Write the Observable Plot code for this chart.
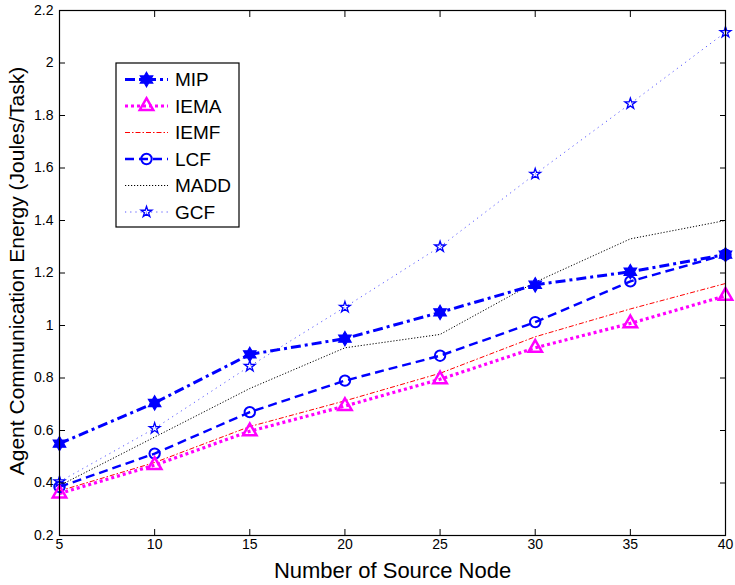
<!DOCTYPE html>
<html>
<head>
<meta charset="utf-8">
<script src="https://cdn.jsdelivr.net/npm/d3@7"></script>
<script src="https://cdn.jsdelivr.net/npm/@observablehq/plot@0.6"></script>
<style>
  body { margin: 0; background: #fff; }
  #wrap { position: relative; width: 735px; height: 585px; }
  #wrap svg { position: absolute; left: 0; top: 0; }
</style>
</head>
<body>
<div id="wrap"></div>
<script>
const nodes = [5, 10, 15, 20, 25, 30, 35, 40];
const MIP  = [0.55, 0.705, 0.89, 0.95, 1.05, 1.155, 1.205, 1.27];
const IEMA = [0.36, 0.468, 0.597, 0.693, 0.795, 0.915, 1.008, 1.113];
const IEMF = [0.37, 0.478, 0.615, 0.713, 0.818, 0.957, 1.063, 1.16];
const LCF  = [0.385, 0.512, 0.67, 0.79, 0.885, 1.013, 1.168, 1.27];
const MADD = [0.39, 0.575, 0.76, 0.915, 0.966, 1.165, 1.33, 1.40];
const GCF  = [0.405, 0.608, 0.845, 1.07, 1.30, 1.577, 1.845, 2.117];
const seriesNames = ["MIP", "IEMA", "IEMF", "LCF", "MADD", "GCF"];
const seriesValues = [MIP, IEMA, IEMF, LCF, MADD, GCF];
const yTicks = [0.2, 0.4, 0.6, 0.8, 1, 1.2, 1.4, 1.6, 1.8, 2, 2.2];
const xTicks = [5, 10, 15, 20, 25, 30, 35, 40];
const xLabel = "Number of Source Node";
const yLabel = "Agent Communication Energy (Joules/Task)";

// six-pointed star (hexagram) symbol
const hexagram = {
  draw(context, size) {
    const R = Math.sqrt(size / Math.PI) * 1.2;
    const r = R / Math.sqrt(3);
    for (let i = 0; i < 12; i++) {
      const a = -Math.PI / 2 + i * Math.PI / 6;
      const rad = i % 2 === 0 ? R : r;
      const x = rad * Math.cos(a), y = rad * Math.sin(a);
      if (i === 0) context.moveTo(x, y); else context.lineTo(x, y);
    }
    context.closePath();
  }
};

const styles = {
  MIP:  {stroke: "#0000ff", strokeWidth: 3, dash: "10,4,3,4", symbol: hexagram, r: 6, fill: "#0000ff", mstroke: "#0000ff", mw: 1.2},
  IEMA: {stroke: "#ff00ff", strokeWidth: 3.2, dash: "3,3", symbol: "triangle", r: 5, fill: "none", mstroke: "#ff00ff", mw: 2.5},
  IEMF: {stroke: "#ff0000", strokeWidth: 1, dash: "5,2,1.5,2", symbol: null},
  LCF:  {stroke: "#0000ff", strokeWidth: 2.4, dash: "9,5", symbol: "circle", r: 5.2, fill: "none", mstroke: "#0000ff", mw: 2},
  MADD: {stroke: "#000000", strokeWidth: 1, dash: "1.2,1.8", symbol: null},
  GCF:  {stroke: "#5555ff", strokeWidth: 1, dash: "1.2,4", symbol: "star", r: 3.4, fill: "none", mstroke: "#0000ff", mw: 1.3}
};

const data = [];
seriesNames.forEach((s, i) => nodes.forEach((n, j) => data.push({series: s, x: n, y: seriesValues[i][j]})));

const marks = [];
[...seriesNames].reverse().forEach(s => {
  const st = styles[s];
  const d = data.filter(v => v.series === s);
  marks.push(Plot.line(d, {x: "x", y: "y", stroke: st.stroke, strokeWidth: st.strokeWidth, strokeDasharray: st.dash, strokeLinecap: "butt"}));
});
[...seriesNames].reverse().forEach(s => {
  const st = styles[s];
  if (!st.symbol) return;
  const d = data.filter(v => v.series === s);
  marks.push(Plot.dot(d, {x: "x", y: "y", symbol: st.symbol, r: st.r, fill: st.fill, stroke: st.mstroke, strokeWidth: st.mw}));
});

const font = "'Liberation Sans', Arial, Helvetica, sans-serif";

const chart = Plot.plot({
  width: 735,
  height: 585,
  marginLeft: 59,
  marginRight: 10,
  marginTop: 10,
  marginBottom: 50,
  style: {fontFamily: font, fontSize: "14px", background: "#fff", color: "#000", overflow: "visible"},
  x: {domain: [5, 40], ticks: xTicks},
  y: {domain: [0.2, 2.2], ticks: yTicks},
  marks: [
    ...marks,
    Plot.frame({stroke: "#000", strokeWidth: 1.2}),
    Plot.axisX(xTicks, {anchor: "bottom", tickSize: -6, tickPadding: 10, fontSize: 14, label: null}),
    Plot.axisX(xTicks, {anchor: "top", tickSize: -6, tickFormat: () => "", label: null}),
    Plot.axisY(yTicks, {anchor: "left", tickSize: -6, tickPadding: 12, tickFormat: d3.format("~g"), fontSize: 14, label: null}),
    Plot.axisY(yTicks, {anchor: "right", tickSize: -6, tickFormat: () => "", label: null}),
    Plot.text([xLabel], {frameAnchor: "bottom", dy: 35, lineAnchor: "middle", fontSize: 22, text: d => d, fill: "#000"}),
    Plot.text([yLabel], {frameAnchor: "left", dx: -42, dy: -2, rotate: -90, textAnchor: "middle", lineAnchor: "middle", fontSize: 21, text: d => d, fill: "#000"})
  ]
});
document.getElementById("wrap").appendChild(chart);

// Legend overlay
const leg = d3.select("#wrap").append("svg")
  .attr("width", 735).attr("height", 585)
  .style("pointer-events", "none")
  .style("font-family", font);
const box = {x: 116, y: 63, w: 123, h: 164};
leg.append("rect").attr("x", box.x).attr("y", box.y).attr("width", box.w).attr("height", box.h)
  .attr("fill", "#fff").attr("stroke", "#000").attr("stroke-width", 1.2);
const rowH = 26.5;
seriesNames.forEach((s, i) => {
  const st = styles[s];
  const cy = box.y + 16.5 + i * rowH;
  leg.append("line").attr("x1", box.x + 9).attr("x2", box.x + 52).attr("y1", cy).attr("y2", cy)
    .attr("stroke", st.stroke).attr("stroke-width", st.strokeWidth).attr("stroke-dasharray", st.dash);
  if (st.symbol) {
    const sym = typeof st.symbol === "string"
      ? {triangle: d3.symbolTriangle, circle: d3.symbolCircle, star: d3.symbolStar}[st.symbol]
      : st.symbol;
    leg.append("path").attr("transform", `translate(${box.x + 30.5},${cy})`)
      .attr("d", d3.symbol(sym, st.r * st.r * Math.PI)())
      .attr("fill", st.fill).attr("stroke", st.mstroke).attr("stroke-width", st.mw);
  }
  leg.append("text").attr("x", box.x + 59).attr("y", cy).attr("dy", "0.35em")
    .attr("font-size", 19).attr("fill", "#000").text(s);
});
</script>
</body>
</html>
